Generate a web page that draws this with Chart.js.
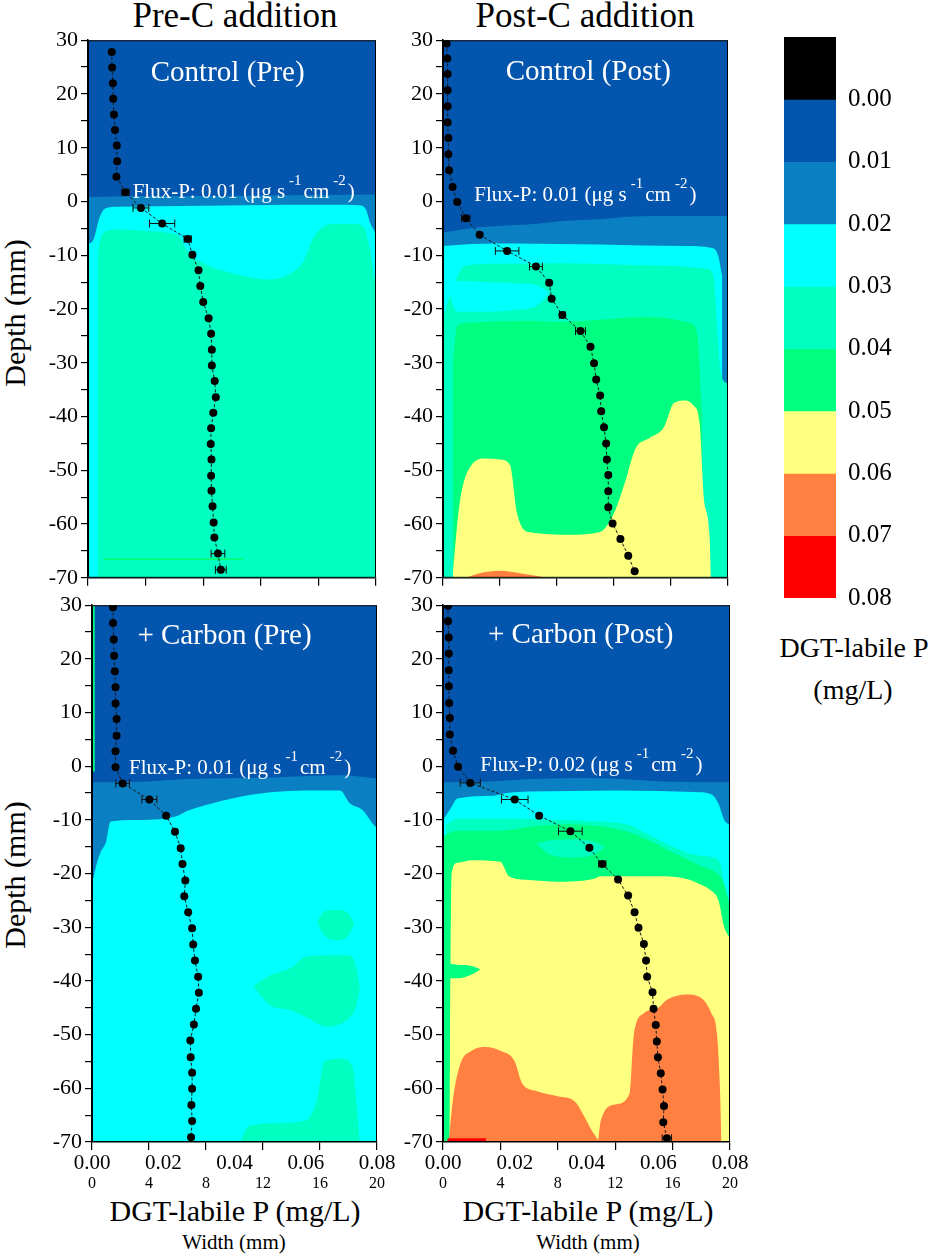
<!DOCTYPE html>
<html>
<head>
<meta charset="utf-8">
<title>DGT-labile P profiles</title>
<script src="https://cdn.jsdelivr.net/npm/chart.js@4.4.1/dist/chart.umd.min.js"></script>
<style>
  html, body { margin: 0; padding: 0; background: #fff; }
  body { position: relative; width: 934px; height: 1256px; overflow: hidden;
         font-family: 'Liberation Serif', 'DejaVu Serif', 'Noto Serif', serif; color: #000; }
  .panel { position: absolute; }
  .lbl { position: absolute; white-space: nowrap; line-height: 1; transform: translateX(-50%); }
  .rot { position: absolute; white-space: nowrap; line-height: 1; transform: translate(-50%, -50%) rotate(-90deg); }
</style>
</head>
<body>
  <div class="lbl" style="left:235px; top:-2px; font-size:35px;">Pre-C addition</div>
  <div class="lbl" style="left:585px; top:-2px; font-size:35px;">Post-C addition</div>
  <div class="rot" style="left:15px; top:313px; font-size:30px;">Depth (mm)</div>
  <div class="rot" style="left:15px; top:875px; font-size:30px;">Depth (mm)</div>
  <div class="lbl" style="left:235px; top:1196px; font-size:30px;">DGT-labile P (mg/L)</div>
  <div class="lbl" style="left:588px; top:1196px; font-size:30px;">DGT-labile P (mg/L)</div>
  <div class="lbl" style="left:234px; top:1232px; font-size:21px;">Width (mm)</div>
  <div class="lbl" style="left:588px; top:1232px; font-size:21px;">Width (mm)</div>
  <div class="lbl" style="left:854px; top:634px; font-size:28px;">DGT-labile P</div>
  <div class="lbl" style="left:853px; top:676px; font-size:28px;">(mg/L)</div>

  <div class="panel" id="pTL"><canvas id="cTL"></canvas></div>
  <div class="panel" id="pTR"><canvas id="cTR"></canvas></div>
  <div class="panel" id="pBL"><canvas id="cBL"></canvas></div>
  <div class="panel" id="pBR"><canvas id="cBR"></canvas></div>
  <div class="panel" id="pCB"><canvas id="cCB"></canvas></div>

<script>
// ---- profiles (DGT-labile P in mg/L vs depth in mm) ----
const tlDepth = [27.8, 24.9, 22.0, 19.1, 16.2, 13.3, 10.4, 7.5, 4.6, 1.7, -1.2, -4.1, -7.0, -9.9, -12.8, -15.7, -18.7,
  -21.7, -24.6, -27.6, -30.5, -33.4, -36.4, -39.3, -42.2, -45.1, -48.0, -51.0, -53.8, -56.7, -59.7, -62.5, -65.5, -68.5];
const tlP = [0.0066, 0.0067, 0.0069, 0.0070, 0.0072, 0.0075, 0.0080, 0.0081, 0.0079, 0.0104, 0.0147, 0.0206, 0.0277,
  0.0290, 0.0307, 0.0312, 0.0320, 0.0335, 0.0342, 0.0344, 0.0344, 0.0352, 0.0355, 0.0348, 0.0342, 0.0341, 0.0343,
  0.0342, 0.0343, 0.0346, 0.0349, 0.0351, 0.0361, 0.0369];
const tlErr = [0, 0, 0, 0, 0, 0, 0, 0, 0, 0.0010, 0.0022, 0.0035, 0.0010, 0, 0, 0, 0, 0, 0, 0, 0, 0, 0, 0, 0, 0, 0, 0,
  0, 0, 0, 0, 0.0019, 0.0015];

const trDepth = [29.4, 26.6, 23.7, 20.7, 17.7, 14.7, 11.8, 8.8, 5.8, 2.7, -0.1, -3.1, -6.2, -9.2, -12.1, -15.1, -18.1,
  -21.1, -24.1, -27.0, -30.1, -33.1, -36.1, -39.0, -42.0, -45.0, -48.0, -50.9, -53.9, -56.9, -59.9, -62.8, -65.9, -68.8];
const trP = [0.0010, 0.0012, 0.0013, 0.0013, 0.0013, 0.0013, 0.0015, 0.0015, 0.0017, 0.0027, 0.0040, 0.0064, 0.0103,
  0.0180, 0.0261, 0.0298, 0.0305, 0.0335, 0.0386, 0.0414, 0.0424, 0.0430, 0.0441, 0.0444, 0.0452, 0.0458, 0.0460,
  0.0464, 0.0464, 0.0464, 0.0476, 0.0498, 0.0520, 0.0538];
const trErr = [0, 0, 0, 0, 0, 0, 0, 0, 0, 0, 0, 0.0012, 0, 0.0033, 0.0018, 0, 0, 0.0008, 0.0014, 0, 0, 0, 0, 0, 0, 0,
  0, 0, 0, 0, 0, 0, 0, 0];

const blDepth = [29.6, 26.7, 23.6, 20.6, 17.7, 14.7, 11.7, 8.8, 5.7, 2.8, -0.2, -3.2, -6.2, -9.2, -12.2, -15.3, -18.2,
  -21.3, -24.2, -27.2, -30.2, -33.2, -36.2, -39.2, -42.2, -45.2, -48.1, -51.1, -54.2, -57.1, -60.1, -63.1, -66.1, -69.1];
const blP = [0.0059, 0.0059, 0.0061, 0.0062, 0.0064, 0.0066, 0.0066, 0.0069, 0.0069, 0.0066, 0.0066, 0.0086, 0.0161,
  0.0208, 0.0233, 0.0249, 0.0254, 0.0262, 0.0259, 0.0270, 0.0281, 0.0284, 0.0289, 0.0298, 0.0300, 0.0292, 0.0286,
  0.0276, 0.0277, 0.0281, 0.0281, 0.0279, 0.0281, 0.0278];
const blErr = [0, 0, 0, 0, 0, 0, 0, 0, 0, 0, 0, 0.0019, 0.0021, 0, 0, 0, 0, 0, 0, 0, 0, 0, 0, 0, 0, 0, 0, 0, 0, 0, 0,
  0, 0, 0];

const brDepth = [29.9, 27.0, 24.0, 21.0, 17.9, 14.9, 11.8, 9.0, 5.9, 2.9, -0.1, -3.1, -6.2, -9.2, -12.1, -15.2, -18.2,
  -21.1, -24.1, -27.2, -30.1, -33.1, -36.2, -39.2, -42.1, -45.2, -48.2, -51.3, -54.2, -57.2, -60.2, -63.3, -66.3, -69.3];
const brP = [0.0014, 0.0014, 0.0016, 0.0016, 0.0016, 0.0016, 0.0017, 0.0019, 0.0019, 0.0028, 0.0042, 0.0076, 0.0200,
  0.0268, 0.0355, 0.0408, 0.0444, 0.0488, 0.0516, 0.0534, 0.0545, 0.0560, 0.0566, 0.0569, 0.0584, 0.0587, 0.0593,
  0.0596, 0.0599, 0.0607, 0.0612, 0.0616, 0.0614, 0.0624];
const brErr = [0, 0, 0, 0, 0, 0, 0, 0, 0, 0, 0, 0.0028, 0.0037, 0, 0.0033, 0, 0.0010, 0, 0, 0, 0, 0, 0, 0, 0, 0, 0, 0,
  0, 0, 0, 0, 0, 0.0013];

const fluxTL = '0.01', fluxTR = '0.01', fluxBL = '0.01', fluxBR = '0.02';

// ---- colour zones of the DGT images (width mm -> depth mm of the zone's upper edge) ----
const fullW = [0, 20], fullD = [30, 30];

const tlMedW = [0, 4, 8, 12, 16, 20];
const tlMedD = [0.8, 1.0, 1.0, 1.1, 1.2, 1.3];
const tlCyanW = [0, 0.4, 0.8, 1.2, 2, 5, 8, 11, 14, 17, 18.8, 19.3, 19.6, 20];
const tlCyanD = [-8, -7, -3, -1.3, -1.0, -0.9, -0.8, -0.7, -0.6, -0.6, -0.7, -1.5, -4, -6];
const tlAquaW = [0.7, 1, 2, 4, 5.5, 6.3, 7, 8, 9.5, 11, 12.5, 14, 15, 15.6, 16.2, 17, 18.5, 19.2, 19.5, 20];
const tlAquaD = [-9, -6, -5.2, -5.5, -5.8, -6.5, -9.5, -11.5, -13, -14, -14.5, -13.5, -11, -7, -5, -4.2, -4.2, -5, -8, -16];
const tlLineW = [1.1, 10.8], tlLineTop = [-66.3, -66.3], tlLineBot = [-66.7, -66.7];

const trMedW = [0, 1.5, 3.6, 5.9, 8.7, 11.0, 13.4, 15.7, 18.0, 20];
const trMedD = [-5.8, -5.1, -4.6, -4.3, -3.6, -3.3, -2.8, -2.7, -2.7, -2.7];
const trCyanW = [0, 2, 5, 8, 11, 14, 17, 18.8, 19.3, 19.6];
const trCyanD = [-8.3, -7.9, -7.8, -7.9, -8.0, -8.2, -8.3, -8.6, -10, -14];
const trAquaW = [0, 0.3, 1.0, 1.5, 4, 8, 12, 16, 18.5, 19.0, 19.25, 19.5, 20];
const trAquaD = [-22, -19, -14, -12, -11.6, -11.5, -11.7, -12.0, -12.5, -14, -24, -32, -34];
const trCyan2W = [0.3, 1, 3, 5, 6.5, 7.5];
const trCyan2Top = [-16, -14.8, -15, -15.2, -15.5, -17];
const trCyan2Bot = [-16, -20.5, -20.5, -20.2, -19.5, -17];
const trGreenW = [0.7, 1.0, 2, 4, 6, 8, 10, 12, 14, 16, 17.2, 17.8, 18.2];
const trGreenD = [-30, -23, -22.5, -22.3, -22.2, -22.4, -22.2, -21.8, -21.5, -21.8, -22.5, -24, -40];
const trYellowW = [0.7, 1.0, 1.3, 2, 3, 4, 4.7, 5.2, 6, 9, 11, 12, 12.8, 13.5, 14.5, 15.5, 16.2, 17.0, 17.6, 18.0, 18.3, 18.7, 18.8];
const trYellowD = [-69, -60, -54, -49, -47.8, -48, -49, -58, -61.5, -62, -61.5, -58, -52, -46, -44, -42, -37.5, -37, -38, -41, -55, -62, -70];
const trOrangeW = [1.6, 2.5, 4, 5.5, 7.3];
const trOrangeD = [-70, -69.2, -68.7, -69.2, -70];

const blMedW = [0, 3.4, 5.7, 8.1, 12.7, 17.4, 20];
const blMedD = [-3.0, -2.9, -2.5, -2.3, -2.1, -1.7, -2.3];
const blCyanW = [0, 0.3, 0.6, 1.0, 1.3, 3, 5.8, 6.8, 8, 10.4, 12.7, 15, 17.4, 18.1, 19.0, 19.7, 20];
const blCyanD = [-22, -18.5, -16, -14, -10.3, -10.0, -9.4, -8.2, -7.2, -5.7, -4.8, -4.5, -4.5, -6.9, -8.2, -10.7, -11.5];
const blAqua1W = [15.8, 16.3, 17.2, 18.0, 18.4];
const blAqua1Top = [-29, -27, -26.8, -27.5, -29.5];
const blAqua1Bot = [-29, -31.5, -32.4, -31.5, -29.5];
const blAqua2W = [11.3, 12.5, 14, 15, 16.5, 18, 18.5, 18.8];
const blAqua2Top = [-41, -39, -37.5, -35.5, -35.2, -35.2, -37, -41.5];
const blAqua2Bot = [-41, -44.5, -45.5, -46.7, -48.5, -47, -45, -41.5];
const blAqua3W = [10.4, 11, 13, 15, 15.8, 16.3, 17.5, 18.3, 18.6, 18.8];
const blAqua3D = [-70, -67, -66.5, -66, -62, -55, -54.5, -56, -64, -70];
const blGreenW = [0, 0.2], blGreenTop = [30, 30], blGreenBot = [-1, -1];

const brMedW = [0, 3, 6.3, 10, 13.2, 16, 20];
const brMedD = [-3.0, -2.9, -2.4, -2.2, -2.5, -2.9, -3.0];
const brCyanW = [0, 0.5, 1.0, 3.5, 4.4, 6, 9, 12, 15, 17.5, 18.7, 19.2, 19.6, 20];
const brCyanD = [-10, -8, -6.0, -5.5, -5.0, -4.7, -4.6, -4.5, -4.6, -4.8, -5.2, -7, -10, -11];
const brAquaW = [0.2, 1, 4, 8, 11, 13, 14.5, 16, 17.5, 18.8, 19.3, 19.7, 20];
const brAquaD = [-11, -9.8, -9.8, -10.0, -10.3, -11, -13, -15, -16.5, -17, -18, -24, -30];
const brGreenW = [0, 1, 4, 6.3, 8.6, 11, 13.2, 15.6, 17.9, 19.1, 19.6, 20];
const brGreenD = [-13, -12, -12, -11.2, -10.8, -11.2, -12.5, -15.5, -18.5, -20, -22, -26];
const brAqua2W = [6.5, 7.5, 9, 10.5, 11.3];
const brAqua2Top = [-14.5, -13.8, -13.6, -14, -15];
const brAqua2Bot = [-14.5, -16.5, -17, -16.5, -15];
const brYellowW = [0.45, 0.6, 1.0, 2, 4, 4.6, 6, 8, 10.5, 11, 13, 15, 17, 17.9, 18.6, 19.2, 19.6, 20];
const brYellowD = [-69, -20, -18, -17.5, -17.8, -20.5, -21.2, -21.5, -21, -20.5, -20.5, -20.5, -21, -22, -23, -25, -30, -32];
const brTongueW = [0.45, 1, 2, 2.6];
const brTongueTop = [-36.8, -37, -37.2, -37.8];
const brTongueBot = [-39.5, -39.5, -38.8, -37.8];
const brOrangeLW = [0.4, 0.7, 1.2, 2, 3, 4, 5, 5.5, 6.5, 8, 9.2, 9.8, 10.4, 10.9];
const brOrangeLD = [-70, -62, -55.5, -53, -52.3, -53, -55, -59, -60.5, -61.5, -62.5, -65, -68, -70];
const brOrangeRW = [10.8, 11, 12, 13, 13.3, 14, 15, 15.6, 17, 17.9, 18.7, 19.1, 19.3, 19.4];
const brOrangeRD = [-70, -66, -63, -61, -50, -46, -45, -43.5, -42.5, -43, -46, -50, -60, -70];
const brRedW = [0.3, 3.0], brRedTop = [-69.3, -69.3], brRedBot = [-69.85, -69.85];

// colour bar
const cbEdges = [-0.01, 0.00, 0.01, 0.02, 0.03, 0.04, 0.05, 0.06, 0.07, 0.08];

// palette (styles, not data)
const cBlack = '#000000', cDark = '#0455AE', cMed = '#0A80C2', cCyan = '#00FFFF', cAqua = '#00FFC0',
      cGreen = '#00FF80', cYellow = '#FFFF80', cOrange = '#FF8040', cRed = '#FF0000';
const cbColors = [cBlack, cDark, cMed, cCyan, cAqua, cGreen, cYellow, cOrange, cRed];

const FAMILY = "'Liberation Serif', 'DejaVu Serif', 'Noto Serif', serif";
const YW = 64, PT = 16, PR = 24;

function toPts(xs, ys) {
  return xs.map((x, i) => ({ x: x, y: ys[i] }));
}

// zone whose upper edge is given, filled down to the bottom of the axis
function area(xs, ys, color) {
  return [{ data: toPts(xs, ys), xAxisID: 'w', yAxisID: 'y', backgroundColor: color, borderWidth: 0,
            pointRadius: 0, fill: { value: -70 }, cubicInterpolationMode: 'monotone' }];
}

// closed patch between an upper and a lower edge
function patch(xs, top, bot, color) {
  return [
    { data: toPts(xs, top), xAxisID: 'w', yAxisID: 'y', borderWidth: 0, pointRadius: 0, fill: false,
      cubicInterpolationMode: 'monotone' },
    { data: toPts(xs, bot), xAxisID: 'w', yAxisID: 'y', backgroundColor: color, borderWidth: 0, pointRadius: 0,
      fill: '-1', cubicInterpolationMode: 'monotone' }
  ];
}

const errorBars = {
  id: 'errorBars',
  beforeDatasetDraw(chart, args) {
    const ds = chart.data.datasets[args.index];
    if (!ds.errorBars) return;
    const xs = chart.scales.x, ys = chart.scales.y, ctx = chart.ctx;
    ctx.save();
    ctx.strokeStyle = '#111';
    ctx.lineWidth = 1;
    ds.data.forEach((pt, i) => {
      const e = ds.errorBars[i];
      if (!e) return;
      const x1 = xs.getPixelForValue(pt.x - e), x2 = xs.getPixelForValue(pt.x + e);
      const y = ys.getPixelForValue(pt.y);
      ctx.beginPath();
      ctx.moveTo(x1, y); ctx.lineTo(x2, y);
      ctx.moveTo(x1, y - 4); ctx.lineTo(x1, y + 4);
      ctx.moveTo(x2, y - 4); ctx.lineTo(x2, y + 4);
      ctx.stroke();
    });
    ctx.restore();
  }
};

const frame = {
  id: 'frame',
  afterDatasetsDraw(chart) {
    const a = chart.chartArea, ctx = chart.ctx;
    ctx.save();
    ctx.strokeStyle = '#000';
    ctx.lineWidth = 1;
    ctx.strokeRect(a.left + 0.5, a.top + 0.5, a.right - a.left - 1, a.bottom - a.top - 1);
    ctx.restore();
  }
};

const panelText = {
  id: 'panelText',
  afterDatasetsDraw(chart, args, opts) {
    const ctx = chart.ctx, w = chart.scales.w, y = chart.scales.y;
    ctx.save();
    ctx.fillStyle = '#fff';
    ctx.textBaseline = 'middle';
    ctx.textAlign = 'center';
    ctx.font = `29px ${FAMILY}`;
    ctx.fillText(opts.title, w.getPixelForValue(opts.titleAt[0]), y.getPixelForValue(opts.titleAt[1]));

    // Flux-P line with superscript units
    ctx.textAlign = 'left';
    let px = w.getPixelForValue(opts.fluxAt[0]);
    const py = y.getPixelForValue(opts.fluxAt[1]);
    const parts = [['Flux-P: ' + opts.flux + ' (\u03bcg s', false], ['-1', true], ['cm', false], ['-2', true], [')', false]];
    parts.forEach(([txt, sup]) => {
      ctx.font = sup ? `15px ${FAMILY}` : `21px ${FAMILY}`;
      if (sup) px += 4;
      ctx.fillText(txt, px, sup ? py - 12 : py);
      px += ctx.measureText(txt).width + (sup ? 2 : 0);
    });
    ctx.restore();
  }
};

function makePanel(boxId, canvasId, rect, layers, prof, text, withLabels) {
  const [L, T, R, B] = rect;
  const XH = withLabels ? 54 : 8;
  const PB = withLabels ? 0 : 6;
  const box = document.getElementById(boxId);
  box.style.left = (L - YW) + 'px';
  box.style.top = (T - PT) + 'px';
  box.style.width = (YW + (R - L) + PR) + 'px';
  box.style.height = (PT + (B - T) + XH + PB) + 'px';

  const datasets = [];
  layers.forEach((group, i) => group.forEach(ds => { ds.order = 100 - i; datasets.push(ds); }));
  datasets.push({
    data: toPts(prof.p, prof.d), xAxisID: 'x', yAxisID: 'y', order: 0,
    borderColor: '#1a1a1a', borderWidth: 1, borderDash: [3, 2], tension: 0, fill: false,
    pointRadius: 4, pointBackgroundColor: '#000', pointBorderWidth: 0,
    errorBars: prof.e
  });

  const scales = {
    y: {
      type: 'linear', position: 'left', min: -70, max: 30,
      ticks: { stepSize: 5, autoSkip: false, padding: 3, color: '#000', font: { family: FAMILY, size: 22 },
               callback: v => (v % 10 === 0 ? v : '') },
      grid: { drawOnChartArea: false, drawTicks: true, tickLength: 7, color: '#000', lineWidth: 1.2 },
      border: { display: true, color: '#000', width: 1.5 },
      afterFit: s => { s.width = YW; }
    },
    w: {
      type: 'linear', position: 'bottom', min: 0, max: 20, weight: 0,
      ticks: { stepSize: 4, display: false },
      grid: { drawOnChartArea: false, drawTicks: true, tickLength: 8, color: '#000', lineWidth: 1.2 },
      border: { display: true, color: '#000', width: 1.5 },
      afterFit: s => { s.height = 8; }
    },
    x: {
      type: 'linear', position: 'bottom', min: 0, max: 0.08, weight: 1, display: withLabels,
      ticks: { stepSize: 0.02, padding: 1, maxRotation: 0, autoSkip: false, color: '#000',
               font: { family: FAMILY, size: 21 }, callback: v => v.toFixed(2) },
      grid: { display: false, drawTicks: false },
      border: { display: false },
      afterFit: s => { if (withLabels) s.height = 24; }
    }
  };
  if (withLabels) {
    scales.wl = {
      type: 'linear', position: 'bottom', min: 0, max: 20, weight: 2,
      ticks: { stepSize: 4, padding: 0, maxRotation: 0, autoSkip: false, color: '#000',
               font: { family: FAMILY, size: 16 } },
      grid: { display: false, drawTicks: false },
      border: { display: false },
      afterFit: s => { s.height = 22; }
    };
  }

  return new Chart(document.getElementById(canvasId), {
    type: 'line',
    data: { datasets: datasets },
    options: {
      responsive: true, maintainAspectRatio: false, animation: false, events: [],
      layout: { padding: { left: 0, top: PT, right: PR, bottom: PB } },
      scales: scales,
      plugins: { legend: { display: false }, tooltip: { enabled: false }, panelText: text }
    },
    plugins: [errorBars, frame, panelText]
  });
}

function makeColorBar() {
  // y labels need 27px above and below the bar (half label height + padding)
  const box = document.getElementById('pCB');
  box.style.left = '784px'; box.style.top = '10px';
  box.style.width = '130px'; box.style.height = '615px';
  return new Chart(document.getElementById('cCB'), {
    type: 'bar',
    data: {
      labels: [''],
      datasets: cbColors.map((c, i) => ({
        data: [[cbEdges[i], cbEdges[i + 1]]], backgroundColor: c, borderWidth: 0,
        barPercentage: 1, categoryPercentage: 1, grouped: false
      }))
    },
    options: {
      responsive: true, maintainAspectRatio: false, animation: false, events: [],
      layout: { padding: { left: 0, top: 27, right: 4, bottom: 27 } },
      scales: {
        x: { display: false },
        y: {
          position: 'right', reverse: true, min: -0.01, max: 0.08,
          ticks: { stepSize: 0.01, autoSkip: false, padding: 12, color: '#000', font: { family: FAMILY, size: 25 },
                   callback: v => (v < -0.005 ? '' : v.toFixed(2)) },
          grid: { display: false, drawTicks: false },
          border: { display: false },
          afterFit: s => { s.width = 74; }
        }
      },
      plugins: { legend: { display: false }, tooltip: { enabled: false } }
    }
  });
}

document.addEventListener('DOMContentLoaded', () => {
  makePanel('pTL', 'cTL', [88, 40, 376, 580], [
    area(fullW, fullD, cDark),
    area(tlMedW, tlMedD, cMed),
    area(tlCyanW, tlCyanD, cCyan),
    area(tlAquaW, tlAquaD, cAqua),
    patch(tlLineW, tlLineTop, tlLineBot, cGreen)
  ], { p: tlP, d: tlDepth, e: tlErr },
  { title: 'Control (Pre)', titleAt: [9.7, 23.9], flux: fluxTL, fluxAt: [3.1, 1.6] }, false);

  makePanel('pTR', 'cTR', [443, 40, 728, 580], [
    area(fullW, fullD, cDark),
    area(trMedW, trMedD, cMed),
    area(trCyanW, trCyanD, cCyan),
    area(trAquaW, trAquaD, cAqua),
    patch(trCyan2W, trCyan2Top, trCyan2Bot, cCyan),
    area(trGreenW, trGreenD, cGreen),
    area(trYellowW, trYellowD, cYellow),
    area(trOrangeW, trOrangeD, cOrange)
  ], { p: trP, d: trDepth, e: trErr },
  { title: 'Control (Post)', titleAt: [10.2, 24.0], flux: fluxTR, fluxAt: [2.2, 1.1] }, false);

  makePanel('pBL', 'cBL', [92, 605, 377, 1142], [
    area(fullW, fullD, cDark),
    area(blMedW, blMedD, cMed),
    area(blCyanW, blCyanD, cCyan),
    patch(blAqua1W, blAqua1Top, blAqua1Bot, cAqua),
    patch(blAqua2W, blAqua2Top, blAqua2Bot, cAqua),
    area(blAqua3W, blAqua3D, cAqua),
    patch(blGreenW, blGreenTop, blGreenBot, cGreen)
  ], { p: blP, d: blDepth, e: blErr },
  { title: '+ Carbon (Pre)', titleAt: [9.3, 24.1], flux: fluxBL, fluxAt: [2.6, -0.5] }, true);

  makePanel('pBR', 'cBR', [443, 605, 730, 1142], [
    area(fullW, fullD, cDark),
    area(brMedW, brMedD, cMed),
    area(brCyanW, brCyanD, cCyan),
    area(brAquaW, brAquaD, cAqua),
    area(brGreenW, brGreenD, cGreen),
    patch(brAqua2W, brAqua2Top, brAqua2Bot, cAqua),
    area(brYellowW, brYellowD, cYellow),
    patch(brTongueW, brTongueTop, brTongueBot, cGreen),
    area(brOrangeLW, brOrangeLD, cOrange),
    area(brOrangeRW, brOrangeRD, cOrange),
    patch(brRedW, brRedTop, brRedBot, cRed)
  ], { p: brP, d: brDepth, e: brErr },
  { title: '+ Carbon (Post)', titleAt: [9.6, 24.4], flux: fluxBR, fluxAt: [2.6, 0.1] }, true);

  makeColorBar();
});
</script>
</body>
</html>
